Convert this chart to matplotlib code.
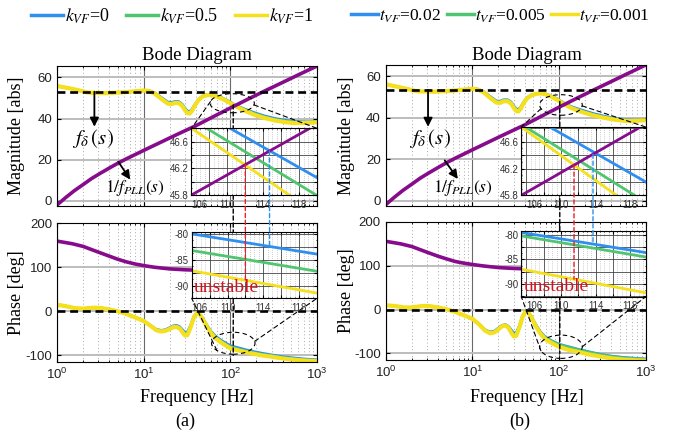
import numpy as np
import matplotlib
matplotlib.use('Agg')
import matplotlib.pyplot as plt
from matplotlib.patches import Ellipse, ConnectionPatch
from matplotlib.lines import Line2D
from matplotlib.ticker import FixedLocator, MultipleLocator, FuncFormatter, NullFormatter

plt.rcParams['font.family'] = ['Liberation Sans', 'DejaVu Sans']
plt.rcParams['mathtext.fontset'] = 'custom'
plt.rcParams['mathtext.rm'] = 'Liberation Sans'
plt.rcParams['mathtext.it'] = 'Liberation Sans:italic'
plt.rcParams['axes.unicode_minus'] = False

# ---- colours
BLUE, GREEN, YELLOW, PURPLE = '#2f8ff0', '#4fc56f', '#f4e01c', '#870c8c'
SERIF = 'Liberation Serif'

# ---- data
# 1/f_PLL(s), same in both panels
freq_pll_m = [1, 1.26, 1.58, 2, 2.5, 3.16, 4, 5, 6.3, 8, 10, 15.8, 25, 40, 63, 100, 158, 250, 400, 630, 1000]
pll_mag = [-2, 1.6, 4.9, 7.9, 10.8, 13.4, 15.9, 18.2, 20.4, 22.5, 24.5, 28.5, 32.5, 36.5, 40.8, 45.1, 49.3, 53.4, 57.5, 61.5, 65.5]
freq_pll_p = [1, 1.5, 2, 3, 4, 5, 6.3, 8, 10, 13, 16, 20, 30, 50, 100, 200, 1000]
a_pll_ph = [159, 153, 147, 134, 125, 118, 112, 107, 103.5, 100, 98, 96, 94, 92.5, 91.5, 91, 91]
b_pll_ph = [156, 150, 144, 131, 122, 116, 110, 106, 103, 100, 98, 96, 94, 92.5, 91.5, 91, 91]

# f_delta(s) magnitude
freq_m = [1, 1.5, 2.3, 3.6, 5.6, 8, 10, 11.5, 13.5, 16, 19, 21, 23, 25.5, 28, 30, 32, 34, 36, 39,
          43, 48, 55, 62, 70, 81, 95, 112, 140, 190, 250, 330, 450, 560, 700, 850, 1000]
a_mag_y = [55.8, 54.4, 52.6, 52.3, 52.7, 53.2, 53.6, 53.4, 52.0, 49.5, 47.2, 47.0, 47.6, 47.5, 46.0, 44.0, 42.6, 42.4, 43.6, 46.3,
           49.0, 50.7, 51.5, 51.3, 50.6, 49.5, 48.0, 46.2, 44.2, 41.8, 40.2, 39.0, 38.1, 37.8, 37.8, 38.0, 38.2]
a_mag_g = [55.8, 54.4, 52.6, 52.3, 52.7, 53.2, 53.6, 53.45, 52.2, 49.8, 47.6, 47.4, 47.9, 47.8, 46.4, 44.5, 43.1, 42.9, 44.0, 46.5,
           49.1, 50.8, 51.55, 51.4, 50.75, 49.7, 48.25, 46.45, 44.55, 42.3, 40.7, 39.5, 38.55, 38.2, 38.1, 38.2, 38.35]
a_mag_b = [55.8, 54.4, 52.6, 52.3, 52.7, 53.2, 53.6, 53.5, 52.4, 50.2, 48.0, 47.8, 48.3, 48.2, 46.8, 45.0, 43.6, 43.4, 44.4, 46.8,
           49.3, 50.9, 51.6, 51.5, 50.9, 49.9, 48.5, 46.7, 44.9, 42.8, 41.2, 40.0, 39.0, 38.6, 38.4, 38.4, 38.5]
b_mag_y = [56.2, 54.6, 52.8, 52.6, 53.0, 53.6, 54.0, 53.7, 52.3, 49.6, 47.3, 47.2, 48.0, 48.0, 46.8, 44.8, 43.3, 43.0, 44.2, 47.0,
           49.5, 50.8, 51.6, 51.8, 51.3, 50.2, 48.7, 46.8, 44.6, 42.6, 41.1, 40.0, 39.0, 38.6, 38.4, 38.6, 38.8]
b_mag_g = [56.2, 54.6, 52.8, 52.6, 53.0, 53.6, 54.0, 53.75, 52.5, 49.9, 47.7, 47.6, 48.3, 48.3, 47.2, 45.3, 43.8, 43.5, 44.6, 47.2,
           49.6, 50.9, 51.65, 51.85, 51.4, 50.4, 48.9, 47.0, 44.9, 42.9, 41.4, 40.3, 39.3, 38.9, 38.6, 38.8, 39.0]
b_mag_b = [56.2, 54.6, 52.8, 52.6, 53.0, 53.6, 54.0, 53.8, 52.7, 50.3, 48.1, 48.0, 48.7, 48.7, 47.6, 45.8, 44.3, 44.0, 45.0, 47.5,
           49.8, 51.0, 51.7, 51.9, 51.5, 50.6, 49.2, 47.3, 45.3, 43.5, 42.0, 40.8, 39.7, 39.2, 38.9, 39.0, 39.1]

# f_delta(s) phase
freq_p = [1, 1.3, 1.6, 2, 2.6, 3.2, 4, 5, 6.3, 8, 10, 12, 14, 16, 18, 20, 22, 24, 26, 28,
          30, 32, 35, 38, 41, 44, 48, 53, 60, 68, 80, 100, 130, 170, 230, 300, 400, 550, 750, 1000]
a_ph_y = [15, 11, 7, 6, 8, 7.5, 4, 0, -6, -14, -22, -33, -43, -46, -44, -40, -36, -35.5, -39, -47,
          -55, -54, -35, -14, -4, -6, -18, -33, -50, -62, -72, -84, -90, -95, -100, -103, -107, -110, -112, -113]
a_ph_g = [15, 11, 7, 6, 8, 7.5, 4, 0, -6, -14, -22, -32.5, -42, -44.7, -42.7, -38.5, -34.5, -33.7, -37, -44.5,
          -51.5, -50.5, -33, -13, -3.5, -5.5, -17, -31.5, -48, -59.5, -69.5, -81, -87, -92.5, -97.5, -101, -105, -108, -110.2, -111.5]
a_ph_b = [15, 11, 7, 6, 8, 7.5, 4, 0, -6, -14, -22, -32, -41, -43.5, -41.5, -37, -33, -32, -35, -42,
          -48, -47, -31, -12, -3, -5, -16, -30, -46, -57, -67, -78, -84, -90, -95, -99, -103, -106, -108.5, -110]
b_ph_y = [10, 8, 5, 5, 8, 8, 5, 1, -5, -13, -21, -34, -48, -54, -52, -45, -38, -36, -41, -52,
          -61, -60, -40, -16, -5, -5, -18, -35, -53, -66, -75, -85, -92, -97, -103, -107, -111, -114, -115.5, -116.5]
b_ph_g = [10, 8, 5, 5, 8, 8, 5, 1, -5, -13, -21, -33.5, -47, -52.5, -50.5, -43.5, -37, -35, -39.5, -49,
          -57, -56.5, -38.5, -15, -4.5, -4.5, -17, -33, -50, -62, -71, -80, -86, -92, -98, -103, -107, -110, -112, -113.5]
b_ph_b = [10, 8, 5, 5, 8, 8, 5, 1, -5, -13, -21, -33, -46, -51, -49, -42, -36, -34, -38, -46,
          -53, -53, -37, -14, -4, -4, -16, -32, -49, -61, -70, -79, -85, -91, -97, -102, -106, -109, -111, -112.5]

# dashed reference levels and marker frequencies
a_level, b_level = 53.0, 53.5
a_vline, b_vline = 108, 102

# zoomed views (straight segments): x values, y values
a_zm = {'b': ([110.3, 120.0], [46.8, 46.06]), 'g': ([107.7, 119.9], [46.8, 45.8]),
        'y': ([106.0, 116.9], [46.8, 45.8]), 'p': ([106.0, 119.2], [45.8, 46.8])}
a_zp = {'b': ([106, 120], [-80.0, -83.9]), 'g': ([106, 120], [-83.2, -87.2]), 'y': ([106, 120], [-87.1, -91.4])}
a_cross = [112.0, 114.7]
b_zm = {'b': ([108.7, 119.8], [46.82, 46.0]), 'g': ([105.4, 118.5], [46.86, 45.8]),
        'y': ([105.4, 116.4], [46.82, 45.8]), 'p': ([105.4, 119.2], [45.8, 46.82])}
b_zp = {'b': ([105.4, 119.8], [-79.5, -83.6]), 'g': ([105.4, 119.8], [-80.2, -84.5]), 'y': ([105.4, 119.8], [-87.0, -91.8])}
b_cross = [111.5, 113.7]

a_labels = [r'$k_{VF}$=0', r'$k_{VF}$=0.5', r'$k_{VF}$=1']
b_labels = [r'$t_{VF}$=0.02', r'$t_{VF}$=0.005', r'$t_{VF}$=0.001']

W, H = 676, 434
fig = plt.figure(figsize=(W / 100, H / 100), dpi=100)


def px(x0, y0, x1, y1):
    return [x0 / W, 1 - y1 / H, (x1 - x0) / W, (y1 - y0) / H]


def main_axes(box, ylim, yticks):
    ax = fig.add_axes(px(*box))
    ax.set_xscale('log')
    ax.set_xlim(1, 1000)
    ax.set_ylim(*ylim)
    ax.set_yticks(yticks)
    ax.xaxis.set_major_locator(FixedLocator([1, 10, 100, 1000]))
    ax.xaxis.set_minor_locator(FixedLocator([m * d for d in (1, 10, 100) for m in range(2, 10)]))
    ax.xaxis.set_minor_formatter(NullFormatter())
    ax.grid(True, which='major', axis='x', color='#6a6a6a', lw=0.8)
    ax.grid(True, which='minor', axis='x', color='#a8a8a8', lw=0.7, ls=(0, (1, 2.5)))
    ax.grid(True, which='major', axis='y', color='#bdbdbd', lw=1.4)
    ax.tick_params(which='both', direction='in', top=True, right=True, labelsize=9.5,
                   labelcolor='#222222', length=3)
    ax.tick_params(which='minor', length=1.5)
    ax.set_axisbelow(True)
    return ax


def zoom_axes(box, xlim, ylim, ystep, ylab):
    ins = fig.add_axes(px(*box), zorder=4)
    ins.set_xlim(*xlim)
    ins.set_ylim(*ylim)
    ins.xaxis.set_major_locator(FixedLocator([106, 108, 110, 112, 114, 116, 118]))
    ins.xaxis.set_major_formatter(FuncFormatter(lambda v, p: '%d' % v if int(round(v)) % 4 == 2 else ''))
    ins.xaxis.set_minor_locator(MultipleLocator(0.5))
    ins.yaxis.set_major_locator(MultipleLocator(ystep))
    ins.yaxis.set_major_formatter(FuncFormatter(
        lambda v, p: ('%g' % round(v, 1)) if any(abs(v - t) < 1e-6 for t in ylab) else ''))
    ins.yaxis.set_minor_locator(MultipleLocator(ystep / 2))
    ins.grid(True, which='major', color='#444444', lw=0.6)
    ins.grid(True, which='minor', axis='x', color='#a0a0a0', lw=0.5, ls=(0, (1, 2)))
    ins.tick_params(which='both', direction='in', top=True, right=True, labelsize=7,
                    labelcolor='#333333', length=2, pad=2)
    ins.tick_params(axis='x', pad=3.3)
    ins.tick_params(which='minor', length=1)
    ins.set_axisbelow(True)
    ins.xaxis.get_major_ticks()[0].label1.set_horizontalalignment('left')
    return ins


def panel(xl, xr, mag_box_y, ph_box_y, zm_box, zp_box, zxlim, zm_ylim, zp_ylim,
          mag_b, mag_g, mag_y, ph_b, ph_g, ph_y, pll_ph, level, vline, zm, zp, cross,
          ell_m, ell_p, arr_d, arr_p, labels, leg, letter, title_x, xlab_x, letter_x, ylab_x):
    axm = main_axes((xl, mag_box_y[0], xr, mag_box_y[1]), (-2.5, 65.5), [0, 20, 40, 60])
    axp = main_axes((xl, ph_box_y[0], xr, ph_box_y[1]), (-115, 200), [-100, 0, 100, 200])
    axm.tick_params(labelbottom=False)

    for vals, c, w in ((mag_b, BLUE, 2.0), (mag_g, GREEN, 2.0), (mag_y, YELLOW, 3.0)):
        axm.plot(freq_m, vals, color=c, lw=w, solid_capstyle='butt')
    axm.plot(freq_pll_m, pll_mag, color=PURPLE, lw=2.6)
    axm.axhline(level, color='k', lw=1.9, ls=(0, (3, 1.8)))

    axp.plot(freq_pll_p, pll_ph, color=PURPLE, lw=2.6)
    for vals, c, w in ((ph_b, BLUE, 2.0), (ph_g, GREEN, 2.0), (ph_y, YELLOW, 3.0)):
        axp.plot(freq_p, vals, color=c, lw=w)
    axp.axhline(0, color='k', lw=1.9, ls=(0, (3, 1.8)))

    axm.set_ylabel('Magnitude [abs]', family=SERIF, fontsize=13)
    axp.set_ylabel('Phase [deg]', family=SERIF, fontsize=13)
    axm.yaxis.set_label_coords(ylab_x, 0.5)
    axp.yaxis.set_label_coords(ylab_x, 0.5)

    # arrows and curve names
    axm.annotate('', xy=(arr_d[0], arr_d[2]), xytext=(arr_d[0], arr_d[1]),
                 arrowprops=dict(arrowstyle='-|>', color='k', lw=1.3, mutation_scale=13,
                                 shrinkA=0, shrinkB=0))
    axm.text(arr_d[3], arr_d[4], r'$f_{\delta}\,(s)$', math_fontfamily='stix', fontsize=15,
             ha='center', va='center')
    axm.annotate('', xy=(arr_p[2], arr_p[3]), xytext=(arr_p[0], arr_p[1]),
                 arrowprops=dict(arrowstyle='-|>', color='k', lw=1.3, mutation_scale=13,
                                 shrinkA=0, shrinkB=0))
    axm.text(arr_p[4], arr_p[5], r'$1/f_{PLL}(s)$', math_fontfamily='stix', fontsize=12.5,
             ha='center', va='center')

    # zoomed views
    insm = zoom_axes(zm_box, zxlim, zm_ylim, 0.2, [45.8, 46.2, 46.6])
    insp = zoom_axes(zp_box, zxlim, zp_ylim, 2.5, [-80, -85, -90])
    for k, c in (('b', BLUE), ('g', GREEN), ('y', YELLOW), ('p', PURPLE)):
        insm.plot(zm[k][0], zm[k][1], color=c, lw=2.0)
    for k, c in (('b', BLUE), ('g', GREEN), ('y', YELLOW)):
        insp.plot(zp[k][0], zp[k][1], color=c, lw=2.0)
    insp.text(0.02, 0.03, 'unstable', transform=insp.transAxes, color='#d0141e',
              family=SERIF, fontsize=14, va='bottom', ha='left')

    # ellipses and zoom guide lines
    for ax, ins, e, corners in ((axm, insm, ell_m, ((0, 1), (1, 1))), (axp, insp, ell_p, ((0, 0), (1, 0)))):
        cx, cy, w, h, t1, t2 = e
        ax.add_patch(Ellipse((cx, cy), w, h, transform=ax.transAxes, fill=False,
                             ls=(0, (4, 3)), lw=0.8, color='k', zorder=6))
        for t, cor in ((t1, corners[0]), (t2, corners[1])):
            pt = (cx + w / 2 * np.cos(np.radians(t)), cy + h / 2 * np.sin(np.radians(t)))
            fig.add_artist(ConnectionPatch(pt, cor, coordsA=ax.transAxes, coordsB=ins.transAxes,
                                           ls=(0, (4, 3)), lw=0.8, color='k', zorder=2))

    # vertical marker lines
    fig.add_artist(ConnectionPatch((vline, np.interp(vline, freq_m, mag_y)), (vline, -100),
                                   coordsA=axm.transData, coordsB=axp.transData,
                                   ls=(0, (3, 2)), lw=1.0, color='k', zorder=2))
    red_top = np.interp(cross[0], zm['p'][0], zm['p'][1])
    red_bot = np.interp(cross[0], zp['y'][0], zp['y'][1])
    blue_top = np.interp(cross[1], zm['p'][0], zm['p'][1])
    blue_bot = np.interp(cross[1], zp['b'][0], zp['b'][1])
    fig.add_artist(ConnectionPatch((cross[0], red_top), (cross[0], red_bot),
                                   coordsA=insm.transData, coordsB=insp.transData,
                                   ls=(0, (3, 2)), lw=1.0, color='#e8202a', zorder=8))
    fig.add_artist(ConnectionPatch((cross[1], blue_top), (cross[1], blue_bot),
                                   coordsA=insm.transData, coordsB=insp.transData,
                                   ls=(0, (3, 2)), lw=1.0, color='#2a8ff0', zorder=8))

    # texts
    fig.text(title_x / W, 1 - 55 / H, 'Bode Diagram', family=SERIF, fontsize=13.5, ha='center', va='center')
    fig.text(xlab_x / W, 1 - 398 / H, 'Frequency [Hz]', family=SERIF, fontsize=13, ha='center', va='center')
    fig.text(letter_x / W, 1 - 421 / H, letter, family=SERIF, fontsize=13, ha='center', va='center')

    handles = [Line2D([], [], color=c, lw=2.5) for c in (BLUE, GREEN, YELLOW)]
    lg = fig.legend(handles, labels, loc='center', bbox_to_anchor=(leg[0] / W, 1 - 16 / H), ncol=3,
                    frameon=False, prop={'family': SERIF, 'size': leg[1]}, handlelength=leg[2],
                    handletextpad=leg[3], columnspacing=leg[4], borderaxespad=0, borderpad=0)
    for t in lg.get_texts():
        t.set_math_fontfamily('stix')


panel(57, 317, (66, 206), (223, 362), (191.5, 128.3, 317, 195), (191.7, 232.3, 317, 298.3),
      (106, 120), (45.8, 46.8), (-92.4, -79.7),
      a_mag_b, a_mag_g, a_mag_y, a_ph_b, a_ph_g, a_ph_y, a_pll_ph, a_level, a_vline, a_zm, a_zp, a_cross,
      (0.674, 0.734, 0.170, 0.136, 170, -10), (0.678, 0.135, 0.167, 0.158, 221, 10),
      (2.7, 53.0, 36.0, 2.6, 30.5), (5.1, 19.0, 7.0, 10.3, 7.9, 6.2),
      a_labels, (172, 13, 1.8, 0.1, 0.9), '(a)', 196.7, 196.7, 185, -0.123)

panel(385.7, 645.7, (65, 205.7), (222, 360), (521.3, 127, 645.7, 195.3), (521.3, 231, 645.7, 296.7),
      (105.4, 119.8), (45.8, 46.82), (-92.6, -79.2),
      b_mag_b, b_mag_g, b_mag_y, b_ph_b, b_ph_g, b_ph_y, b_pll_ph, b_level, b_vline, b_zm, b_zp, b_cross,
      (0.674, 0.716, 0.164, 0.146, 201, -5), (0.674, 0.096, 0.164, 0.169, 200, 0),
      (3.08, 53.5, 35.6, 3.2, 29.9), (4.8, 19.4, 6.8, 10.4, 7.8, 5.9),
      b_labels, (500.5, 12.5, 1.55, 0.05, 0.35), '(b)', 526.7, 526.7, 520, -0.118)

fig.savefig('out.png', dpi=100)
